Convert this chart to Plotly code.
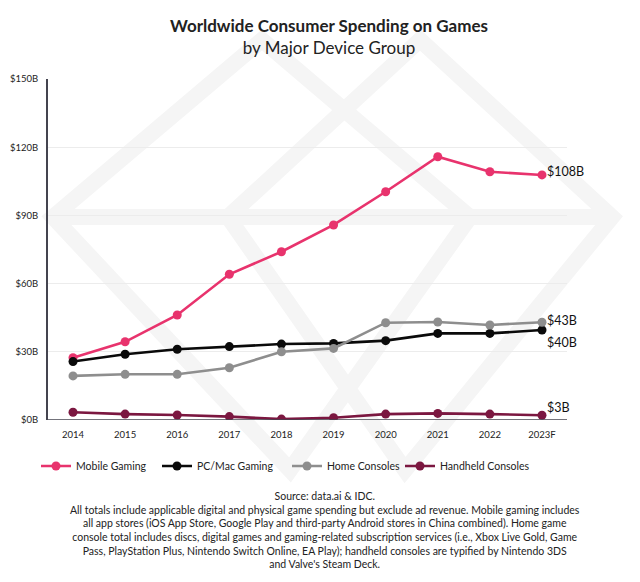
import plotly.graph_objects as go

years = ["2014", "2015", "2016", "2017", "2018", "2019", "2020", "2021", "2022", "2023F"]
mobile = [27.4, 34.4, 46.2, 64.1, 74.0, 85.8, 100.4, 115.8, 109.2, 107.8]
pc_mac = [25.7, 28.9, 31.1, 32.3, 33.4, 33.7, 34.9, 38.1, 38.1, 39.6]
home = [19.4, 20.1, 20.1, 23.0, 30.0, 31.5, 42.8, 43.1, 41.8, 43.0]
handheld = [3.4, 2.6, 2.2, 1.5, 0.4, 1.0, 2.6, 2.9, 2.6, 2.1]
end_labels = ["$108B", "$40B", "$43B", "$3B"]
y_ticks = [0, 30, 60, 90, 120, 150]
y_ticktext = ["$0B", "$30B", "$60B", "$90B", "$120B", "$150B"]

series = [
    ("Mobile Gaming", mobile, "#e8336d"),
    ("PC/Mac Gaming", pc_mac, "#0a0a0a"),
    ("Home Consoles", home, "#8e8e8e"),
    ("Handheld Consoles", handheld, "#7b1740"),
]

FONT = "Lato, Open Sans, sans-serif"
OFF = 8  # page body margin
W, H = 632, 574
L, R, T, B = 40, 73, 71, 162
PW, PH = W - L - R, H - T - B


def px(x):
    return (x - OFF - L) / PW


def py(y):
    return (H - B - (y - OFF)) / PH


x_idx = list(range(len(years)))
legend_names = ["legend", "legend2", "legend3", "legend4"]
legend_text_x = [77, 198, 328, 441]

fig = go.Figure()
for (name, vals, col), lg in zip(series, legend_names):
    fig.add_trace(go.Scatter(
        x=x_idx, y=vals, name=name, mode="lines+markers",
        line=dict(color=col, width=2.6),
        marker=dict(color=col, size=9),
        legend=lg,
    ))

# end labels
label_offsets = {"$108B": 3, "$40B": -13, "$43B": 2, "$3B": 8}
for (name, vals, col), lab in zip(series, end_labels):
    fig.add_annotation(
        x=x_idx[-1], y=vals[-1], text=lab, showarrow=False,
        xanchor="left", yanchor="middle", xshift=3,
        yshift=label_offsets[lab],
        font=dict(family=FONT, size=12.5, color="#111"),
    )

footer = ("Source: data.ai & IDC.<br>"
          "All totals include applicable digital and physical game spending but exclude ad revenue. Mobile gaming includes<br>"
          "all app stores (iOS App Store, Google Play and third-party Android stores in China combined). Home game<br>"
          "console total includes discs, digital games and gaming-related subscription services (i.e., Xbox Live Gold, Game<br>"
          "Pass, PlayStation Plus, Nintendo Switch Online, EA Play); handheld consoles are typified by Nintendo 3DS<br>"
          "and Valve's Steam Deck.")
fig.add_annotation(
    x=px(325), xref="paper", xanchor="center", y=py(488), yref="paper", yanchor="top",
    text=footer, showarrow=False, align="center",
    font=dict(family=FONT, size=10.5, color="#222"),
)

# faint watermark (diamond outlines)
wm = "#f5f5f5"
diamonds = [
    [(53, 217), (262, 40), (470, 217), (290, 470)],
    [(228, 217), (420, 40), (612, 217), (405, 470)],
]
for d in diamonds:
    pts = [(px(a), py(b)) for a, b in d]
    path = "M " + " L ".join(f"{a:.4f},{b:.4f}" for a, b in pts) + " Z"
    fig.add_shape(type="path", xref="paper", yref="paper", path=path,
                  line=dict(color=wm, width=16), layer="below")
fig.add_shape(type="line", xref="paper", yref="paper",
              x0=px(53), x1=px(612), y0=py(217), y1=py(217),
              line=dict(color=wm, width=16), layer="below")

layout_legends = {}
for lg, tx in zip(legend_names, legend_text_x):
    layout_legends[lg] = dict(
        orientation="h", x=px(tx - 41), xanchor="left", y=py(466), yanchor="middle",
        font=dict(family=FONT, size=10.5, color="#222"),
        bgcolor="rgba(0,0,0,0)", itemwidth=30,
    )

fig.update_layout(
    width=W, height=H,
    margin=dict(l=L, r=R, t=T, b=B),
    paper_bgcolor="white", plot_bgcolor="rgba(0,0,0,0)",
    title=dict(
        text="<b>Worldwide Consumer Spending on Games</b><br>by Major Device Group",
        x=(329 - OFF) / W, xref="container", xanchor="center",
        y=1 - 23.5 / H, yref="container", yanchor="top",
        font=dict(family=FONT, size=17, color="#222"),
    ),
    font=dict(family=FONT, color="#222"),
    showlegend=True,
    xaxis=dict(
        range=[-0.48, 9.48], tickvals=x_idx, ticktext=years,
        showgrid=False, zeroline=False, showline=False, automargin=False,
        ticks="", ticklabelstandoff=7,
        tickfont=dict(family=FONT, size=9.5, color="#222"),
    ),
    yaxis=dict(
        range=[0, 150], tickvals=y_ticks, ticktext=y_ticktext,
        showgrid=True, gridcolor="#ececec", gridwidth=1, automargin=False,
        zeroline=False, showline=True, linecolor="#44444f", linewidth=2,
        ticks="", ticklabelstandoff=6,
        tickfont=dict(family=FONT, size=9.5, color="#222"),
    ),
    **layout_legends,
)
# bottom axis line
fig.add_shape(type="line", xref="paper", yref="y", x0=0, x1=1, y0=0, y1=0,
              line=dict(color="#44444f", width=1.5))

fig.write_html("out.html")
